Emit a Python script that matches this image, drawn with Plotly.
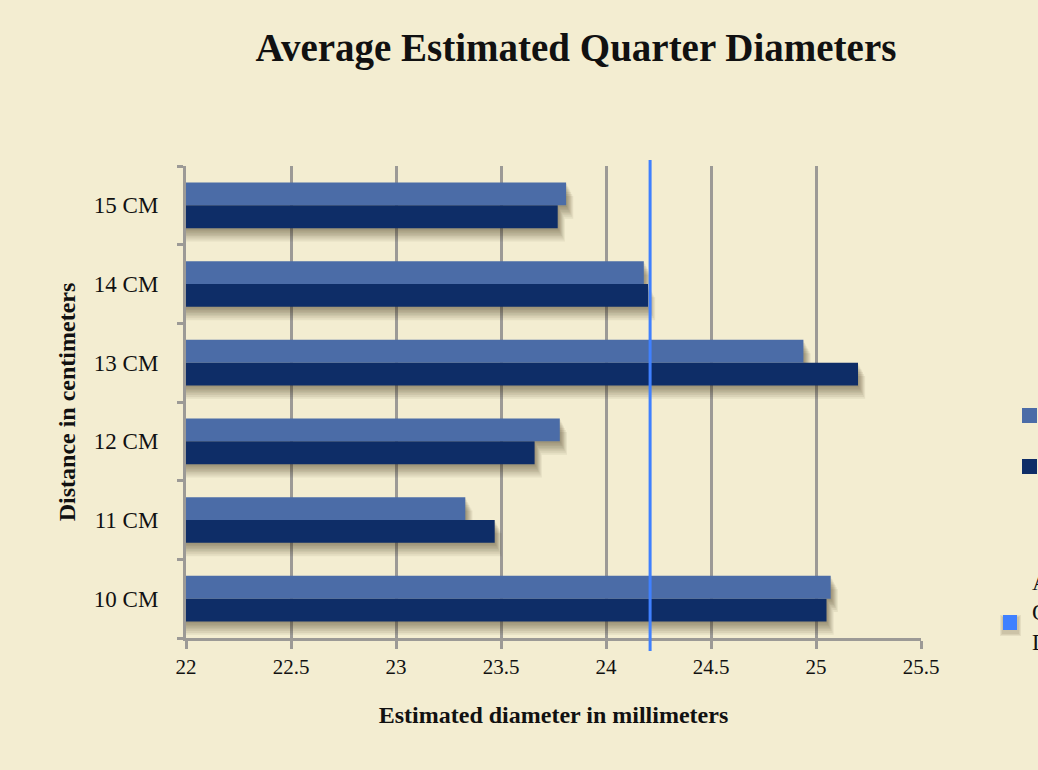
import plotly.graph_objects as go

# Average estimated diameters (mm) per viewing distance
distances = ["10 CM", "11 CM", "12 CM", "13 CM", "14 CM", "15 CM"]
series_names = ["Trial 1", "Trial 2"]
trial_1 = [25.07, 23.33, 23.78, 24.94, 24.18, 23.81]
trial_2 = [25.05, 23.47, 23.66, 25.20, 24.20, 23.77]
actual_diameter = 24.21
actual_label = "Actual<br>Quarter<br>Diameter"
x_ticks = [22, 22.5, 23, 23.5, 24, 24.5, 25, 25.5]

W, H = 1038, 770
L, R, T, B = 186, 117, 166, 132
PW, PH = W - L - R, H - T - B

LIGHT = "#4B6CA7"
DARK = "#0E2D67"
LINE_BLUE = "#3F80FF"
GRID = "#9C9A96"
BG = "#F3EDD1"
FONT = "Liberation Serif"
INK = "#111111"


def px_x(px):
    return (px - L) / PW


def px_y(py):
    return (H - B - py) / PH


BAR_W = 0.29
fig = go.Figure()

# soft drop shadow: several faint copies of each bar, shifted down and right
shadow_steps = [(0.02, 0.004), (0.04, 0.008), (0.06, 0.012), (0.08, 0.016),
                (0.10, 0.020), (0.12, 0.024), (0.145, 0.029), (0.17, 0.034)]
for values, offset in [(trial_2, -BAR_W), (trial_1, 0.0)]:
    for dy, dx in shadow_steps:
        fig.add_trace(go.Bar(
            y=distances, x=[v + dx for v in values], orientation="h",
            width=BAR_W, offset=offset - dy,
            marker=dict(color="rgba(70,58,25,0.075)", line=dict(width=0)),
            showlegend=False, hoverinfo="skip",
        ))

fig.add_trace(go.Bar(
    y=distances, x=trial_2, orientation="h", name=series_names[1],
    width=BAR_W, offset=-BAR_W,
    marker=dict(color=DARK, line=dict(width=0)), showlegend=False,
))
fig.add_trace(go.Bar(
    y=distances, x=trial_1, orientation="h", name=series_names[0],
    width=BAR_W, offset=0,
    marker=dict(color=LIGHT, line=dict(width=0)), showlegend=False,
))

# reference line for the real coin diameter
fig.add_shape(type="line", xref="x", yref="paper",
              x0=actual_diameter, x1=actual_diameter,
              y0=px_y(651), y1=px_y(160),
              line=dict(color=LINE_BLUE, width=3), layer="above")

# legend swatches at the right edge of the page
for color, x0, y0 in [(LIGHT, 1022, 408), (DARK, 1022, 459)]:
    fig.add_shape(type="rect", xref="paper", yref="paper",
                  x0=px_x(x0), x1=px_x(x0 + 15), y0=px_y(y0 + 15), y1=px_y(y0),
                  fillcolor=color, line=dict(width=0))
for k in range(3):
    fig.add_shape(type="rect", xref="paper", yref="paper",
                  x0=px_x(1002 - k), x1=px_x(1019 + k),
                  y0=px_y(634 + k), y1=px_y(617 - k),
                  fillcolor="rgba(60,50,20,0.08)", line=dict(width=0))
fig.add_shape(type="rect", xref="paper", yref="paper",
              x0=px_x(1003), x1=px_x(1017), y0=px_y(630), y1=px_y(615),
              fillcolor=LINE_BLUE, line=dict(width=0))
fig.add_annotation(x=px_x(1030), y=px_y(612), xref="paper", yref="paper",
                   text=actual_label, showarrow=False, xanchor="left", yanchor="middle",
                   align="left", font=dict(family=FONT, size=23, color=INK))

fig.update_layout(
    width=W, height=H,
    margin=dict(l=L, r=R, t=T, b=B, autoexpand=False),
    paper_bgcolor=BG, plot_bgcolor="rgba(0,0,0,0)",
    barmode="overlay",
    showlegend=False,
    title=dict(text="<b>Average Estimated Quarter Diameters</b>",
               x=576 / W, xanchor="center", xref="container",
               y=1 - 47 / H, yanchor="middle", yref="container",
               font=dict(family=FONT, size=39, color=INK)),
    font=dict(family=FONT, color=INK),
)

fig.update_xaxes(
    range=[22, 25.5], tickvals=x_ticks, ticktext=[f"{t:g}" for t in x_ticks],
    showgrid=True, gridcolor=GRID, gridwidth=2.5,
    showline=True, linecolor=GRID, linewidth=3,
    ticks="outside", ticklen=8, tickwidth=2.5, tickcolor=GRID,
    zeroline=False, tickfont=dict(family=FONT, size=21, color=INK),
    title=dict(text="<b>Estimated diameter in millimeters</b>", standoff=28,
               font=dict(family=FONT, size=24, color=INK)),
)
fig.update_yaxes(
    type="category", categoryorder="array", categoryarray=distances,
    range=[-0.5, 5.5], tickson="boundaries",
    showgrid=False, showline=True, linecolor=GRID, linewidth=3,
    ticks="outside", ticklen=6, tickwidth=2.5, tickcolor=GRID,
    ticklabelstandoff=20,
    tickfont=dict(family=FONT, size=23, color=INK),
    title=dict(text="<b>Distance in centimeters</b>", standoff=12,
               font=dict(family=FONT, size=24, color=INK)),
)

fig.write_html("out.html")
